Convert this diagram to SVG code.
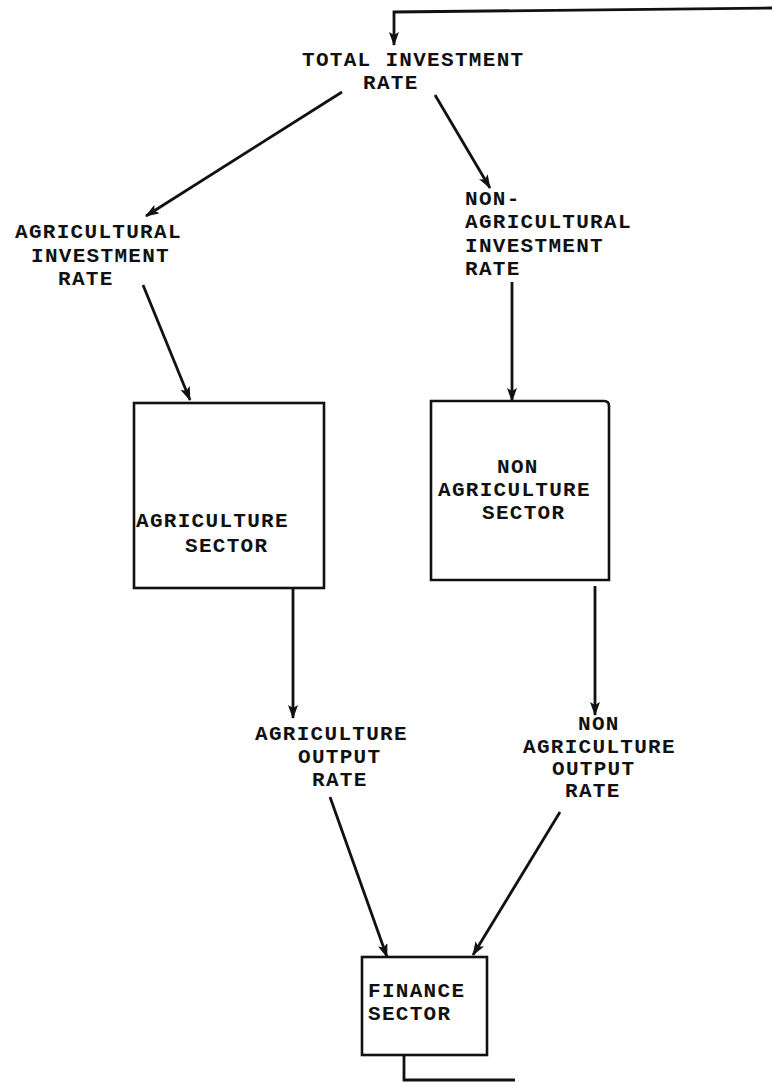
<svg xmlns="http://www.w3.org/2000/svg" width="772" height="1082" viewBox="0 0 772 1082">
  <style>
    .lbl { font-family: "Liberation Mono", "Courier New", monospace; font-weight: bold; font-size: 21px; letter-spacing: 1.3px; fill: #111; }
    .box { fill: none; stroke: #111; stroke-width: 2.6; }
    .wire { fill: none; stroke: #111; stroke-width: 2.8; stroke-linejoin: miter; }
    .arr { marker-end: url(#head); }
  </style>
  <defs>
    <marker id="head" viewBox="0 0 14 10" refX="13" refY="5" markerWidth="14" markerHeight="10" markerUnits="userSpaceOnUse" orient="auto">
      <path d="M0,0 L14,5 L0,10 L3,5 Z" fill="#111"/>
    </marker>
  </defs>
  <rect width="772" height="1082" fill="#fff"/>

  <!-- connectors -->
  <g id="connectors">
    <path class="wire arr" d="M772,8 L394,12 L394,45"/>
    <path class="wire arr" d="M342,92 L146,216"/>
    <path class="wire arr" d="M435,95 L490,188"/>
    <path class="wire arr" d="M143,285 L190,400"/>
    <path class="wire arr" d="M512,282 L512,401"/>
    <path class="wire arr" d="M293,588 L293,718"/>
    <path class="wire arr" d="M595,586 L595,715"/>
    <path class="wire arr" d="M330,797 L387,957"/>
    <path class="wire arr" d="M560,812 L473,955"/>
    <path class="wire" d="M404,1055 L404,1080 L515,1080"/>
  </g>

  <g id="total-investment-rate">
    <text class="lbl" x="302" y="66">TOTAL INVESTMENT</text>
    <text class="lbl" x="363" y="89">RATE</text>
  </g>

  <g id="agricultural-investment-rate">
    <text class="lbl" x="15" y="238">AGRICULTURAL</text>
    <text class="lbl" x="31" y="262">INVESTMENT</text>
    <text class="lbl" x="58" y="285">RATE</text>
  </g>

  <g id="non-agricultural-investment-rate">
    <text class="lbl" x="465" y="205">NON-</text>
    <text class="lbl" x="465" y="228">AGRICULTURAL</text>
    <text class="lbl" x="465" y="252">INVESTMENT</text>
    <text class="lbl" x="465" y="275">RATE</text>
  </g>

  <g id="agriculture-sector">
    <rect class="box" x="134" y="403" width="190" height="185"/>
    <text class="lbl" x="136" y="527">AGRICULTURE</text>
    <text class="lbl" x="185" y="552">SECTOR</text>
  </g>

  <g id="non-agriculture-sector">
    <path class="box" d="M431,401 L604,401 Q609,401 609,406 L609,580 L431,580 Z"/>
    <text class="lbl" x="497" y="473">NON</text>
    <text class="lbl" x="438" y="496">AGRICULTURE</text>
    <text class="lbl" x="482" y="519">SECTOR</text>
  </g>

  <g id="agriculture-output-rate">
    <text class="lbl" x="255" y="740">AGRICULTURE</text>
    <text class="lbl" x="298" y="763">OUTPUT</text>
    <text class="lbl" x="312" y="786">RATE</text>
  </g>

  <g id="non-agriculture-output-rate">
    <text class="lbl" x="578" y="730">NON</text>
    <text class="lbl" x="523" y="753">AGRICULTURE</text>
    <text class="lbl" x="552" y="775">OUTPUT</text>
    <text class="lbl" x="565" y="797">RATE</text>
  </g>

  <g id="finance-sector">
    <rect class="box" x="362" y="957" width="125" height="98"/>
    <text class="lbl" x="368" y="997">FINANCE</text>
    <text class="lbl" x="368" y="1020">SECTOR</text>
  </g>
</svg>
